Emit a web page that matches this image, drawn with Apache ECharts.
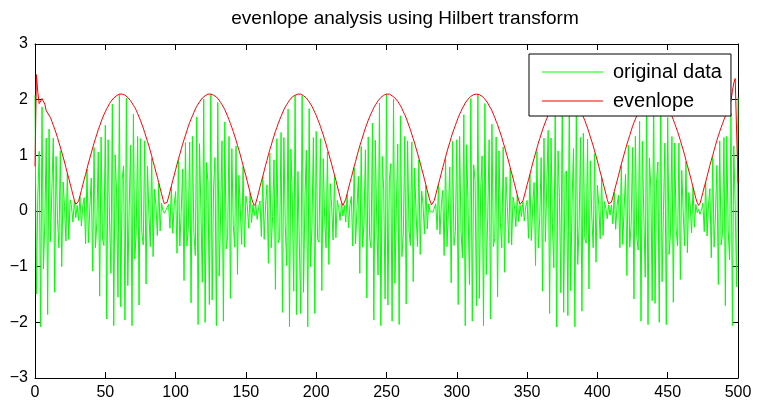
<!DOCTYPE html>
<html>
<head>
<meta charset="utf-8">
<script src="https://cdn.jsdelivr.net/npm/echarts@6/dist/echarts.min.js"></script>
<style>
html, body { margin: 0; padding: 0; background: #fff; }
#chart { width: 760px; height: 404px; }
</style>
</head>
<body>
<div id="chart"></div>
<script>
// Envelope analysis plot: a two-tone signal (green) and its Hilbert envelope (red),
// one value per sample, samples 0..500.
const titleText = 'evenlope analysis using Hilbert transform';
const seriesNames = ['original data', 'evenlope'];
const xRange = [0, 500];
const xStep = 50;
const yRange = [-3, 3];
const yStep = 1;

// signal samples, n = 0..500
const originalData = [
  2.08,-1.49,0.26,1.07,-2.08, 1.87,-1.04,-0.21,1.31,-1.86,
  1.47,-0.55,-0.54,1.31,-1.46, 0.98,-0.14,-0.66,1.08,-1.00,
  0.52,0.08,-0.54,0.68,-0.51, 0.20,0.07,-0.20,0.19,-0.12,
  0.10,-0.17,0.26,-0.27,0.09, 0.24,-0.59,0.75,-0.57,0.06,
  0.59,-1.08,1.14,-0.66,-0.20, 1.06,-1.53,1.33,-0.50,-0.62,
  1.54,-1.94,1.28,-0.14,-1.12, 1.92,-2.06,1.01,0.34,-1.55,
  2.09,-1.72,0.57,0.81,-1.96, 2.03,-1.34,0.08,1.18,-2.06,
  1.74,-0.86,-0.35,1.34,-1.69, 1.30,-0.39,-0.61,1.26,-1.31,
  0.81,-0.04,-0.64,0.95,-0.82, 0.39,0.11,-0.44,0.50,-0.36,
  0.14,0.01,-0.04,0.01,-0.02, 0.12,-0.31,0.44,-0.40,0.11,
  0.35,-0.76,0.91,-0.63,-0.01, 0.75,-1.25,1.23,-0.63,-0.33,
  1.24,-1.65,1.34,-0.39,-0.80, 1.69,-2.04,1.21,0.02,-1.28,
  2.01,-2.00,0.87,0.51,-1.68, 2.10,-1.60,0.40,0.96,-2.06,
  1.95,-1.17,-0.09,1.26,-1.98, 1.60,-0.68,-0.47,1.34,-1.57,
  1.12,-0.24,-0.65,1.17,-1.14, 0.64,0.04,-0.60,0.80,-0.65,
  0.27,0.10,-0.31,0.33,-0.21, 0.11,-0.08,0.13,-0.15,0.06,
  0.18,-0.46,0.62,-0.51,0.10, 0.47,-0.94,1.04,-0.66,-0.10,
  0.92,-1.41,1.30,-0.57,-0.49, 1.41,-1.82,1.32,-0.26,-0.98,
  1.83,-2.08,1.11,0.20,-1.44, 2.07,-1.86,0.71,0.69,-1.84,
  2.07,-1.46,0.22,1.09,-2.08, 1.84,-1.00,-0.24,1.32,-1.84,
  1.43,-0.51,-0.56,1.30,-1.43, 0.94,-0.12,-0.66,1.06,-0.96,
  0.49,0.09,-0.52,0.64,-0.48, 0.19,0.06,-0.17,0.15,-0.09,
  0.10,-0.20,0.30,-0.30,0.10, 0.26,-0.63,0.78,-0.59,0.05,
  0.62,-1.12,1.16,-0.65,-0.22, 1.10,-1.56,1.33,-0.48,-0.66,
  1.58,-1.96,1.27,-0.11,-1.15, 1.94,-2.06,0.98,0.38,-1.58,
  2.10,-1.69,0.54,0.85,-1.98, 2.01,-1.30,0.04,1.20,-2.04,
  1.71,-0.82,-0.38,1.34,-1.67, 1.26,-0.35,-0.62,1.24,-1.27,
  0.77,-0.02,-0.64,0.92,-0.78, 0.36,0.11,-0.41,0.46,-0.32,
  0.13,-0.01,-0.01,-0.02,0.00, 0.13,-0.34,0.48,-0.42,0.11,
  0.37,-0.80,0.94,-0.64,-0.02, 0.79,-1.29,1.25,-0.62,-0.37,
  1.28,-1.68,1.34,-0.36,-0.84, 1.73,-2.06,1.19,0.06,-1.32,
  2.02,-1.98,0.83,0.55,-1.70, 2.10,-1.57,0.36,0.99,-2.06,
  1.93,-1.14,-0.12,1.28,-1.94, 1.56,-0.64,-0.49,1.33,-1.54,
  1.08,-0.21,-0.66,1.15,-1.10, 0.61,0.06,-0.58,0.77,-0.61,
  0.25,0.10,-0.28,0.29,-0.19, 0.10,-0.10,0.17,-0.18,0.07,
  0.19,-0.49,0.66,-0.53,0.09, 0.51,-0.98,1.07,-0.66,-0.13,
  0.96,-1.44,1.31,-0.55,-0.53, 1.45,-1.84,1.31,-0.23,-1.02,
  1.85,-2.08,1.08,0.24,-1.47, 2.08,-1.82,0.67,0.72,-1.88,
  2.06,-1.43,0.18,1.12,-2.08, 1.82,-0.96,-0.27,1.32,-1.80,
  1.40,-0.48,-0.58,1.29,-1.40, 0.90,-0.09,-0.66,1.03,-0.92,
  0.46,0.10,-0.50,0.60,-0.44, 0.17,0.05,-0.14,0.11,-0.07,
  0.11,-0.23,0.34,-0.33,0.10, 0.28,-0.66,0.82,-0.60,0.04,
  0.66,-1.16,1.18,-0.65,-0.25, 1.14,-1.58,1.34,-0.46,-0.70,
  1.61,-1.98,1.25,-0.07,-1.19, 1.96,-2.04,0.95,0.41,-1.61,
  2.10,-1.66,0.50,0.88,-2.00, 2.00,-1.27,0.01,1.22,-2.04,
  1.68,-0.78,-0.40,1.34,-1.64, 1.22,-0.32,-0.63,1.22,-1.23,
  0.73,0.00,-0.63,0.89,-0.75, 0.33,0.11,-0.39,0.43,-0.29,
  0.12,-0.03,0.03,-0.06,0.02, 0.14,-0.37,0.52,-0.45,0.11,
  0.40,-0.84,0.97,-0.65,-0.04, 0.82,-1.32,1.26,-0.61,-0.40,
  1.32,-1.70,1.34,-0.34,-0.88, 1.76,-2.06,1.17,0.10,-1.36,
  2.04
];

// envelope samples, n = 0..500
const envelopeData = [
  0.80,2.45,2.13,1.93,1.92, 2.02,2.04,1.92,1.80,1.76,
  1.74,1.68,1.61,1.54,1.47, 1.40,1.32,1.23,1.15,1.06,
  0.97,0.88,0.78,0.68,0.59, 0.49,0.39,0.29,0.19,0.12,
  0.11,0.18,0.27,0.37,0.47, 0.57,0.66,0.76,0.86,0.95,
  1.04,1.13,1.22,1.30,1.38, 1.46,1.53,1.60,1.67,1.73,
  1.78,1.84,1.88,1.93,1.97, 2.00,2.03,2.05,2.07,2.09,
  2.10,2.10,2.10,2.09,2.08, 2.06,2.04,2.01,1.98,1.95,
  1.90,1.86,1.81,1.75,1.69, 1.63,1.56,1.49,1.41,1.33,
  1.25,1.17,1.08,0.99,0.89, 0.80,0.70,0.61,0.51,0.41,
  0.31,0.21,0.13,0.10,0.16, 0.25,0.35,0.45,0.55,0.64,
  0.74,0.84,0.93,1.02,1.11, 1.20,1.28,1.36,1.44,1.52,
  1.59,1.65,1.71,1.77,1.83, 1.88,1.92,1.96,1.99,2.03,
  2.05,2.07,2.09,2.10,2.10, 2.10,2.09,2.08,2.07,2.05,
  2.02,1.99,1.95,1.91,1.87, 1.82,1.76,1.70,1.64,1.57,
  1.50,1.43,1.35,1.27,1.18, 1.10,1.01,0.91,0.82,0.72,
  0.63,0.53,0.43,0.33,0.23, 0.15,0.10,0.14,0.23,0.33,
  0.43,0.53,0.62,0.72,0.82, 0.91,1.01,1.10,1.18,1.27,
  1.35,1.43,1.50,1.57,1.64, 1.70,1.76,1.82,1.87,1.91,
  1.95,1.99,2.02,2.05,2.07, 2.08,2.09,2.10,2.10,2.10,
  2.09,2.07,2.05,2.03,2.00, 1.96,1.92,1.88,1.83,1.77,
  1.72,1.65,1.59,1.52,1.44, 1.37,1.28,1.20,1.11,1.02,
  0.93,0.84,0.74,0.65,0.55, 0.45,0.35,0.25,0.16,0.10,
  0.13,0.21,0.31,0.41,0.51, 0.60,0.70,0.80,0.89,0.99,
  1.08,1.17,1.25,1.33,1.41, 1.49,1.56,1.63,1.69,1.75,
  1.80,1.86,1.90,1.94,1.98, 2.01,2.04,2.06,2.08,2.09,
  2.10,2.10,2.10,2.09,2.07, 2.05,2.03,2.00,1.97,1.93,
  1.89,1.84,1.78,1.73,1.67, 1.60,1.53,1.46,1.38,1.30,
  1.22,1.13,1.04,0.95,0.86, 0.76,0.67,0.57,0.47,0.37,
  0.27,0.18,0.11,0.12,0.19, 0.29,0.39,0.49,0.58,0.68,
  0.78,0.87,0.97,1.06,1.15, 1.23,1.32,1.40,1.47,1.54,
  1.61,1.68,1.74,1.79,1.85, 1.89,1.94,1.97,2.01,2.04,
  2.06,2.08,2.09,2.10,2.10, 2.10,2.09,2.08,2.06,2.04,
  2.01,1.98,1.94,1.89,1.85, 1.80,1.74,1.68,1.61,1.55,
  1.47,1.40,1.32,1.23,1.15, 1.06,0.97,0.88,0.78,0.68,
  0.59,0.49,0.39,0.29,0.20, 0.12,0.11,0.18,0.27,0.37,
  0.47,0.56,0.66,0.76,0.86, 0.95,1.04,1.13,1.22,1.30,
  1.38,1.46,1.53,1.60,1.66, 1.73,1.78,1.84,1.88,1.93,
  1.97,2.00,2.03,2.05,2.07, 2.09,2.10,2.10,2.10,2.09,
  2.08,2.06,2.04,2.01,1.98, 1.95,1.90,1.86,1.81,1.75,
  1.69,1.63,1.56,1.49,1.41, 1.33,1.25,1.17,1.08,0.99,
  0.90,0.80,0.70,0.61,0.51, 0.41,0.31,0.21,0.13,0.10,
  0.16,0.25,0.35,0.45,0.54, 0.64,0.74,0.84,0.93,1.02,
  1.11,1.20,1.28,1.36,1.44, 1.52,1.59,1.65,1.71,1.77,
  1.83,1.87,1.92,1.96,1.99, 2.03,2.05,2.07,2.09,2.10,
  2.10,2.10,2.09,2.08,2.07, 2.05,2.02,1.99,1.95,1.91,
  1.87,1.82,1.76,1.70,1.64, 1.57,1.50,1.43,1.35,1.27,
  1.18,1.10,1.01,0.91,0.82, 0.72,0.63,0.53,0.43,0.33,
  0.23,0.15,0.10,0.14,0.23, 0.33,0.43,0.52,0.62,0.72,
  0.82,0.91,1.00,1.09,1.18, 1.27,1.35,1.43,1.50,1.57,
  1.64,1.70,1.76,1.81,1.88, 1.98,2.15,2.30,2.38,2.41,
  0.50
];

const FONT = '"Liberation Sans", Arial, Helvetica, sans-serif';
const BLACK = '#000000';

function toPairs(values) {
  return values.map((v, i) => [i, v]);
}

// tick labels use a true minus sign
function tickText(v) {
  return v < 0 ? '\u2212' + Math.abs(v) : String(v);
}

function boxAxis(position, range, step, showLabels) {
  return {
    type: 'value',
    position: position,
    min: range[0],
    max: range[1],
    interval: step,
    axisLine: { show: true, onZero: false, lineStyle: { color: BLACK, width: 1 } },
    axisTick: { show: true, inside: true, length: 6, lineStyle: { color: BLACK, width: 1 } },
    axisLabel: {
      show: showLabels,
      color: BLACK,
      fontSize: 16,
      fontFamily: FONT,
      margin: 7,
      formatter: tickText
    },
    splitLine: { show: false }
  };
}

const chart = echarts.init(document.getElementById('chart'), null, { renderer: 'canvas' });

chart.setOption({
  animation: false,
  backgroundColor: '#ffffff',
  title: {
    text: titleText,
    left: 405,
    top: 9,
    padding: 0,
    textAlign: 'center',
    textStyle: { fontSize: 19, fontWeight: 'normal', color: BLACK, fontFamily: FONT }
  },
  grid: { left: 35, top: 44, width: 703, height: 334, containLabel: false },
  xAxis: [
    boxAxis('bottom', xRange, xStep, true),
    boxAxis('top', xRange, xStep, false)
  ],
  yAxis: [
    boxAxis('left', yRange, yStep, true),
    boxAxis('right', yRange, yStep, false)
  ],
  legend: {
    data: seriesNames,
    orient: 'vertical',
    left: 529,
    top: 54,
    icon: 'rect',
    itemWidth: 61,
    itemHeight: 1,
    itemGap: 9,
    padding: [8, 9, 5, 13],
    borderColor: BLACK,
    borderWidth: 1,
    borderRadius: 0,
    backgroundColor: '#ffffff',
    selectedMode: false,
    textStyle: { fontSize: 20, color: BLACK, fontFamily: FONT, padding: [0, 0, 0, 5] }
  },
  series: [
    {
      name: seriesNames[0],
      type: 'line',
      data: toPairs(originalData),
      symbol: 'none',
      z: 2,
      lineStyle: { color: '#00ff00', width: 1 },
      itemStyle: { color: '#00ff00' }
    },
    {
      name: seriesNames[1],
      type: 'line',
      data: toPairs(envelopeData),
      symbol: 'none',
      z: 3,
      lineStyle: { color: '#ff0000', width: 1 },
      itemStyle: { color: '#ff0000' }
    }
  ]
});
</script>
</body>
</html>
